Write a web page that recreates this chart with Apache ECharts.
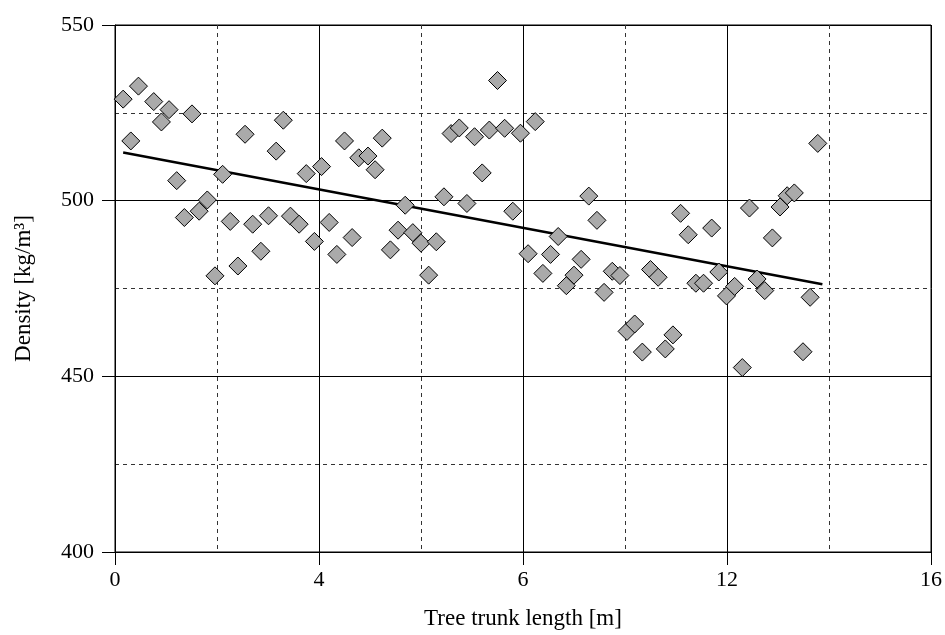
<!DOCTYPE html>
<html>
<head>
<meta charset="utf-8">
<script src="https://cdn.jsdelivr.net/npm/echarts@6/dist/echarts.min.js"></script>
<style>
html, body { margin: 0; padding: 0; background: #fff; }
#chart { width: 945px; height: 635px; }
</style>
</head>
<body>
<div id="chart"></div>
<script>
var lengths = [
	0.16, 0.31, 0.46, 0.76, 0.91, 1.06, 1.21, 1.36, 1.51, 1.65,
	1.81, 1.96, 2.11, 2.26, 2.41, 2.55, 2.70, 2.86, 3.01, 3.16,
	3.30, 3.44, 3.61, 3.75, 3.91, 4.05, 4.20, 4.35, 4.50, 4.65,
	4.78, 4.96, 5.10, 5.24, 5.40, 5.55, 5.69, 5.84, 6.00, 6.15,
	6.30, 6.45, 6.59, 6.75, 6.90, 7.05, 7.20, 7.34, 7.50, 7.64,
	7.80, 7.95, 8.10, 8.24, 8.39, 8.54, 8.69, 8.85, 9.00, 9.14,
	9.29, 9.45, 9.59, 9.75, 9.90, 10.04, 10.19, 10.34, 10.50, 10.65,
	10.79, 10.94, 11.09, 11.24, 11.39, 11.54, 11.70, 11.84, 11.99, 12.15,
	12.30, 12.44, 12.59, 12.74, 12.89, 13.04, 13.18, 13.32, 13.49, 13.63,
	13.78
];

var densities = [
	528.9, 517.0, 532.6, 528.2, 522.4, 525.9, 505.7, 495.2, 524.7, 497.0,
	500.2, 478.6, 507.5, 494.1, 481.4, 518.9, 493.3, 485.6, 495.7, 514.1,
	522.9, 495.6, 493.3, 507.7, 488.4, 509.7, 493.8, 484.7, 517.0, 489.5,
	512.2, 512.7, 508.8, 517.8, 486.0, 491.6, 498.7, 490.9, 487.9, 478.8,
	488.3, 501.1, 519.1, 520.7, 499.2, 518.2, 507.9, 520.1, 534.2, 520.6,
	497.0, 519.2, 484.9, 522.5, 479.3, 484.7, 489.8, 475.8, 478.8, 483.3,
	501.3, 494.4, 473.9, 479.9, 478.7, 462.8, 464.9, 456.9, 480.4, 478.2,
	457.8, 461.8, 496.4, 490.3, 476.5, 476.5, 492.2, 479.7, 472.9, 475.6,
	452.5, 497.9, 477.7, 474.4, 489.4, 498.2, 501.4, 502.2, 457.0, 472.5,
	516.3
];

// fitted trend line, end points
var fitX = [0.16, 13.87];
var fitY = [513.7, 476.2];

var xTickLabels = ['0', '4', '6', '12', '16'];
var yTickLabels = ['400', '450', '500', '550'];

var points = lengths.map(function (x, i) { return [x, densities[i]]; });
var fitLine = fitX.map(function (x, i) { return [x, fitY[i]]; });

var font = 'Liberation Serif';

var chart = echarts.init(document.getElementById('chart'));

chart.setOption({
	animation: false,
	grid: {
		left: 115,
		right: 11,
		top: 25,
		bottom: 80,
		show: true,
		borderColor: '#000',
		borderWidth: 1
	},
	xAxis: {
		type: 'value',
		min: 0,
		max: 16,
		interval: 4,
		name: 'Tree trunk length [m]',
		nameLocation: 'middle',
		nameGap: 55,
		nameTextStyle: { fontFamily: font, fontSize: 23, color: '#000' },
		axisLine: { lineStyle: { color: '#000', width: 1 } },
		axisTick: { show: true, length: 13, lineStyle: { color: '#000' } },
		axisLabel: {
			margin: 17,
			fontFamily: font,
			fontSize: 22,
			color: '#000',
			formatter: function (v) { return xTickLabels[Math.round(v / 4)]; }
		},
		splitLine: { show: true, lineStyle: { color: '#000', width: 1 } },
		minorTick: { show: false, splitNumber: 2 },
		minorSplitLine: { show: true, lineStyle: { color: '#333', type: [4, 4], width: 1 } }
	},
	yAxis: {
		type: 'value',
		min: 400,
		max: 550,
		interval: 50,
		name: 'Density [kg/m³]',
		nameLocation: 'middle',
		nameGap: 80,
		nameTextStyle: { fontFamily: font, fontSize: 23, color: '#000' },
		axisLine: { show: true, lineStyle: { color: '#000', width: 1 } },
		axisTick: { show: true, length: 13, lineStyle: { color: '#000' } },
		axisLabel: {
			margin: 21,
			fontFamily: font,
			fontSize: 22,
			color: '#000',
			formatter: function (v) { return yTickLabels[Math.round((v - 400) / 50)]; }
		},
		splitLine: { show: true, lineStyle: { color: '#000', width: 1 } },
		minorTick: { show: false, splitNumber: 2 },
		minorSplitLine: { show: true, lineStyle: { color: '#333', type: [4, 4], width: 1 } }
	},
	series: [
		{
			name: 'fit',
			type: 'line',
			data: fitLine,
			symbol: 'none',
			z: 2,
			lineStyle: { color: '#000', width: 2.5 }
		},
		{
			name: 'samples',
			type: 'scatter',
			data: points,
			symbol: 'diamond',
			symbolSize: 18,
			z: 3,
			itemStyle: { color: '#aaaaaa', borderColor: '#000', borderWidth: 1, opacity: 1 }
		}
	]
});
</script>
</body>
</html>
